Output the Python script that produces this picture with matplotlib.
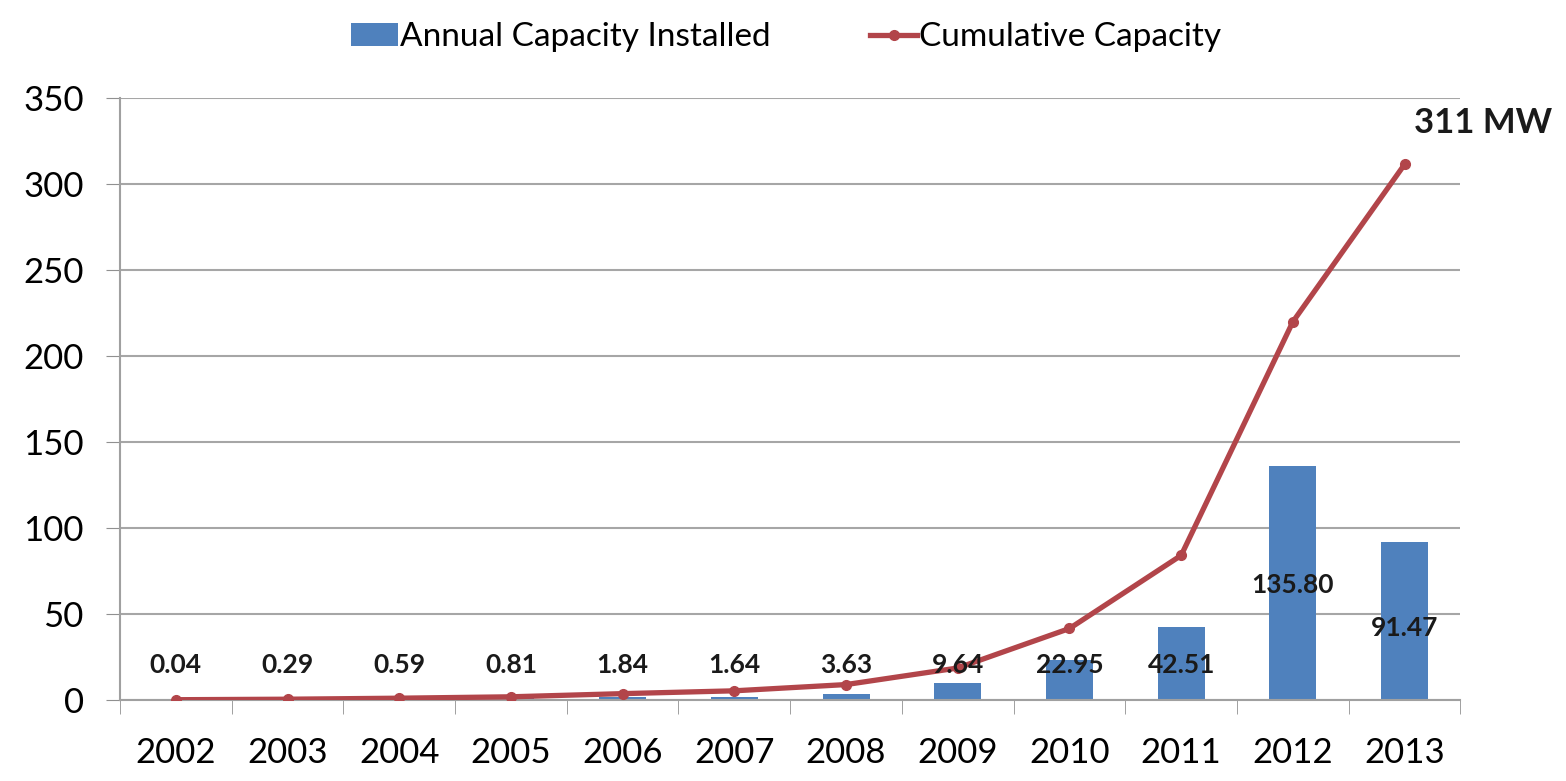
import numpy as np
import matplotlib
matplotlib.use('Agg')
import matplotlib.pyplot as plt

years = ['2002', '2003', '2004', '2005', '2006', '2007',
         '2008', '2009', '2010', '2011', '2012', '2013']
annual = [0.04, 0.29, 0.59, 0.81, 1.84, 1.64, 3.63, 9.64, 22.95, 42.51, 135.80, 91.47]
cumulative = [0.04, 0.33, 0.92, 1.73, 3.57, 5.21, 8.84, 18.48, 41.43, 83.94, 219.74, 311.21]
annual_labels = ['0.04', '0.29', '0.59', '0.81', '1.84', '1.64',
                 '3.63', '9.64', '22.95', '42.51', '135.80', '91.47']
total_label = '311 MW'

plt.rcParams['font.family'] = ['Lato', 'DejaVu Sans']

fig = plt.figure(figsize=(15.66, 7.81), dpi=100)
ax = fig.add_axes([0.0766, 0.104, 0.856, 0.771])

x = np.arange(len(years))
bars = ax.bar(x, annual, width=0.42, color='#4F81BD', zorder=2,
              label='Annual Capacity Installed')
line, = ax.plot(x, cumulative, color='#B2454A', lw=3.8, marker='o', ms=7,
                zorder=3, label='Cumulative Capacity')

# data labels: most sit just above the axis, the two tall bars carry them inside
label_y = [20] * 10 + [67, 42]
for xi, ly, txt in zip(x, label_y, annual_labels):
    ax.text(xi, ly, txt, ha='center', va='center', fontsize=19,
            fontweight='bold', color='#1a1a1a', zorder=4)

ax.text(x[-1] + 0.7, 335, total_label, ha='center', va='center',
        fontsize=25, fontweight='bold', color='#1a1a1a', clip_on=False)

ax.set_xlim(-0.5, len(years) - 0.5)
ax.set_ylim(0, 350)
ax.set_yticks(np.arange(0, 351, 50))
ax.set_xticks(x)
ax.set_xticklabels(years)
ax.set_xticks(np.arange(-0.5, len(years), 1), minor=True)
ax.tick_params(axis='x', which='major', length=0, pad=27, labelsize=25)
ax.tick_params(axis='x', which='minor', length=10, color='#909090')
ax.tick_params(axis='y', length=10, pad=16, labelsize=25, color='#909090')

ax.grid(axis='y', color='#A6A6A6', lw=1.5, zorder=0)
ax.set_axisbelow(True)
for s in ['top', 'right']:
    ax.spines[s].set_visible(False)
ax.spines['left'].set_color('#A0A0A0')
ax.spines['left'].set_linewidth(1.5)
ax.spines['bottom'].set_color('#A0A0A0')
ax.spines['bottom'].set_linewidth(1.5)

fig.legend(handles=[bars, line], loc='upper center', bbox_to_anchor=(0.502, 1.01),
           ncol=2, frameon=False, fontsize=24, handlelength=1.4,
           handletextpad=0.05, columnspacing=3.0)

fig.savefig('out.png', dpi=100, facecolor='white')
